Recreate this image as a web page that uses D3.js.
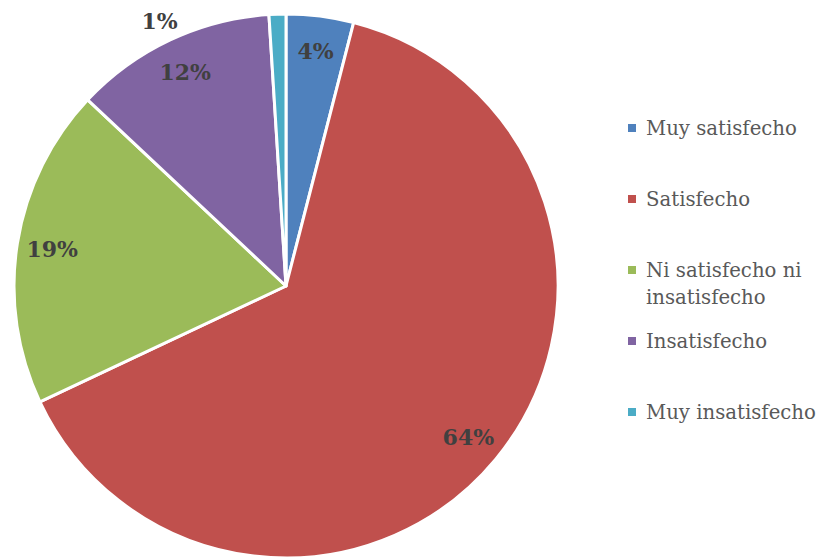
<!DOCTYPE html>
<html>
<head>
<meta charset="utf-8">
<script src="https://cdn.jsdelivr.net/npm/d3@7"></script>
<style>
  body { margin: 0; background: #fff; }
  svg { display: block; }
</style>
</head>
<body>
<div id="chart"></div>
<script>
const width = 821;
const height = 557;

// data
const categories = ["Muy satisfecho", "Satisfecho", "Ni satisfecho ni insatisfecho", "Insatisfecho", "Muy insatisfecho"];
const legendLines = [["Muy satisfecho"], ["Satisfecho"], ["Ni satisfecho ni", "insatisfecho"], ["Insatisfecho"], ["Muy insatisfecho"]];
const values = [4, 64, 19, 12, 1];
const colors = ["#4F81BD", "#C0504D", "#9BBB59", "#8064A2", "#4BACC6"];

const cx = 286, cy = 286, radius = 272;
const font = "DejaVu Serif, serif";

const svg = d3.select("#chart")
    .append("svg")
    .attr("width", width)
    .attr("height", height);

const pie = d3.pie().sort(null).value(d => d);
const arcs = pie(values);

const arc = d3.arc().innerRadius(0).outerRadius(radius);
const labelArc = d3.arc().innerRadius(radius * 0.87).outerRadius(radius * 0.87);

const g = svg.append("g").attr("transform", `translate(${cx},${cy})`);

g.selectAll("path")
    .data(arcs)
    .join("path")
    .attr("d", arc)
    .attr("fill", (d, i) => colors[i])
    .attr("stroke", "#fff")
    .attr("stroke-width", 3)
    .attr("stroke-linejoin", "round");

// percent labels; tiny slices go outside, up and to the left like Excel does
g.selectAll("text")
    .data(arcs)
    .join("text")
    .attr("transform", d => {
        if (d.data < 2) {
            const a = -25.5 * Math.PI / 180, r = radius * 1.08;
            return `translate(${r * Math.sin(a)},${-r * Math.cos(a)})`;
        }
        const [x, y] = labelArc.centroid(d);
        return `translate(${x},${y})`;
    })
    .attr("text-anchor", "middle")
    .attr("dy", "0.35em")
    .attr("font-family", font)
    .attr("font-weight", "bold")
    .attr("font-size", 22)
    .attr("fill", "#404040")
    .text(d => d.data + "%");

// legend
const legendY = d3.scalePoint().domain(categories).range([128, 412]);

const legend = svg.append("g")
    .selectAll("g")
    .data(categories)
    .join("g")
    .attr("transform", d => `translate(628,${legendY(d)})`);

legend.append("rect")
    .attr("x", 0)
    .attr("y", -4)
    .attr("width", 8)
    .attr("height", 8)
    .attr("fill", (d, i) => colors[i]);

legend.append("text")
    .attr("font-family", font)
    .attr("font-size", 19.7)
    .attr("fill", "#595959")
    .selectAll("tspan")
    .data((d, i) => legendLines[i])
    .join("tspan")
    .attr("x", 18)
    .attr("dy", (d, j) => j === 0 ? "0.35em" : "1.4em")
    .text(d => d);
</script>
</body>
</html>
